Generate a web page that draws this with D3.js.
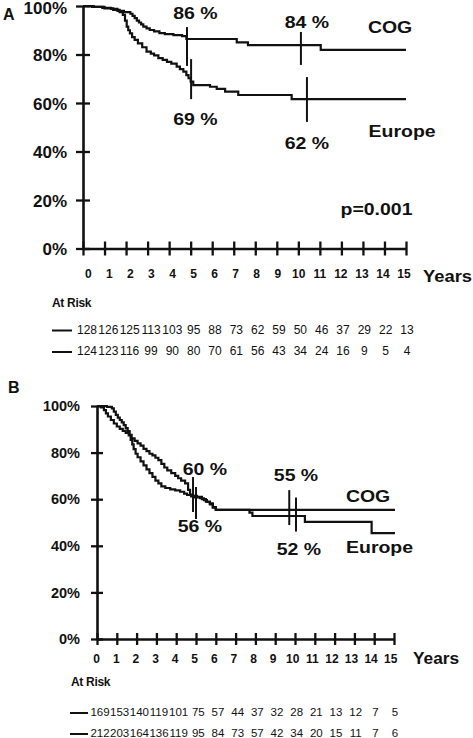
<!DOCTYPE html>
<html><head><meta charset="utf-8">
<script src="https://cdn.jsdelivr.net/npm/d3@7"></script>
<style>
html,body{margin:0;padding:0;background:#fff;}
text{font-family:"Liberation Sans",Arial,sans-serif;fill:#111;}
</style></head>
<body>
<svg id="chart" width="473" height="738"></svg>
<script>
// ---------------- DATA ----------------
const yearTicks = [0,1,2,3,4,5,6,7,8,9,10,11,12,13,14,15];
const pctTicks = [0,20,40,60,80,100];
const seriesNames = ["COG","Europe"];

// Panel A survival curves [year, percent]
const aCOG = [[0,100],[0.4,99.6],[0.9,99.2],[1.3,98.8],[1.6,98.0],[1.9,97.5],[2.2,96.8],[2.3,95.9],[2.4,95.0],[2.5,94.0],[2.6,93.2],[2.7,92.4],[2.8,91.5],[2.95,90.8],[3.1,90.1],[3.3,89.5],[3.55,88.8],[3.8,88.4],[4.2,88.0],[4.6,87.6],[4.8,86.4],[7.14,85.0],[7.66,83.9],[11.04,81.9],[15,81.9]];
const aEurope = [[0,100],[0.5,99.6],[1.0,99.0],[1.4,98.4],[1.7,97.5],[1.85,96.3],[1.95,94.0],[2.03,91.5],[2.1,90.0],[2.18,88.7],[2.28,87.2],[2.4,86.0],[2.55,84.6],[2.75,83.0],[2.95,81.2],[3.15,80.4],[3.3,79.6],[3.5,78.5],[3.7,77.8],[3.9,77.0],[4.1,76.2],[4.35,75.0],[4.5,74.0],[4.66,72.9],[4.8,71.5],[4.9,70.2],[5.0,68.8],[5.12,67.4],[5.9,66.7],[6.21,65.8],[6.6,64.7],[7.21,63.3],[9.69,61.6],[15,61.6]];

// Panel B survival curves [year, percent]
const bCOG = [[0,100],[0.5,99.6],[0.75,99.0],[0.85,97.6],[0.95,96.2],[1.05,95.0],[1.15,94.0],[1.25,93.0],[1.35,91.8],[1.45,90.5],[1.55,89.2],[1.65,87.6],[1.75,86.1],[1.9,85.0],[2.05,84.0],[2.2,83.0],[2.35,81.6],[2.5,80.6],[2.65,79.5],[2.8,78.8],[2.95,77.8],[3.1,76.8],[3.25,75.2],[3.4,73.6],[3.55,72.4],[3.75,71.2],[3.95,70.0],[4.1,69.0],[4.25,68.0],[4.45,66.8],[4.6,64.0],[4.7,62.0],[4.85,61.4],[5.05,61.0],[5.3,60.0],[5.5,59.0],[5.7,58.2],[5.85,56.6],[6.0,55.4],[15.05,55.4]];
const bEurope = [[0,100],[0.2,99.4],[0.35,98.2],[0.45,96.8],[0.55,95.5],[0.7,94.0],[0.85,92.5],[1.0,91.2],[1.15,90.2],[1.3,89.3],[1.45,88.5],[1.6,87.4],[1.7,85.5],[1.78,83.5],[1.85,81.5],[1.95,79.5],[2.05,78.0],[2.2,76.2],[2.35,74.5],[2.5,72.8],[2.65,71.2],[2.8,69.6],[2.95,68.0],[3.1,66.8],[3.25,65.5],[3.45,64.8],[3.7,64.2],[3.95,63.8],[4.2,63.2],[4.4,62.4],[4.55,61.8],[4.75,61.2],[4.9,60.8],[5.2,60.4],[5.4,59.6],[5.55,58.8],[5.7,57.8],[5.85,56.4],[6.0,55.4],[7.7,54.2],[7.85,52.8],[10.5,50.3],[13.87,45.4],[15.05,45.4]];

// Numbers at risk
const riskA_COG    = [128,126,125,113,103,95,88,73,62,59,50,46,37,29,22,13];
const riskA_Europe = [124,123,116,99,90,80,70,61,56,43,34,24,16,9,5,4];
const riskB_COG    = [169,153,140,119,101,75,57,44,37,32,28,21,13,12,7,5];
const riskB_Europe = [212,203,164,136,119,95,84,73,57,42,34,20,15,11,7,6];

// Survival estimates shown at 5 and 10 years
const aMarkLabels = ["86 %","84 %","69 %","62 %"];
const bMarkLabels = ["60 %","55 %","56 %","52 %"];
const pValueA = "p=0.001";

// ---------------- DRAWING ----------------
const svg = d3.select("#chart");
svg.append("rect").attr("width",473).attr("height",738).attr("fill","#fff");

function drawPanel(cfg){
  const g = svg.append("g");
  const x = d3.scaleLinear().domain([0,15]).range(cfg.xr);
  const y = d3.scaleLinear().domain([0,100]).range(cfg.yr);
  const xl = d3.scaleLinear().domain([0,15]).range(cfg.xlabr);
  const xr = d3.scaleLinear().domain([0,15]).range(cfg.riskr);

  // y axis
  const ya = g.append("g").attr("transform",`translate(${cfg.xr[0]},0)`)
    .call(d3.axisLeft(y).tickValues(pctTicks).tickFormat("").tickSizeOuter(0));
  ya.select(".domain").attr("stroke","#111").attr("stroke-width",2.6);
  ya.selectAll(".tick line").attr("x1",-cfg.tick).attr("x2",cfg.tick).attr("stroke","#111").attr("stroke-width",2.3);
  g.selectAll(".ylab").data(pctTicks).join("text")
    .attr("x",cfg.ylabX).attr("y",d=>Math.max(y(d)+cfg.ylabDy, cfg.ylabMinY))
    .attr("text-anchor","end").attr("font-weight","bold").attr("font-size",cfg.ylabFs)
    .text(d=>d+"%");

  // x axis
  const xa = g.append("g").attr("transform",`translate(0,${cfg.yr[0]})`)
    .call(d3.axisBottom(x).tickValues(yearTicks).tickFormat("").tickSizeOuter(0));
  xa.select(".domain").attr("stroke","#111").attr("stroke-width",2.6);
  xa.selectAll(".tick line").attr("y1",-cfg.tick).attr("y2",cfg.tick).attr("stroke","#111").attr("stroke-width",2.3);
  g.selectAll(".xlab").data(yearTicks).join("text")
    .attr("x",d=>xl(d)).attr("y",cfg.xlabY)
    .attr("text-anchor","middle").attr("font-weight","bold").attr("font-size",12)
    .text(d=>d);
  g.append("text").attr("x",cfg.yearsX).attr("y",cfg.xlabY+cfg.yearsDy)
    .attr("font-weight","bold").attr("font-size",cfg.yearsFs)
    .attr("transform",`translate(${cfg.yearsX},0) scale(1.08,1) translate(${-cfg.yearsX},0)`)
    .text("Years");

  // curves
  const line = d3.line().x(d=>x(d[0])).y(d=>y(d[1])).curve(d3.curveStepAfter);
  cfg.curves.forEach(c=>{
    g.append("path").attr("d",line(c)).attr("fill","none").attr("stroke","#111").attr("stroke-width",2.2);
  });

  // markers
  cfg.marks.forEach(m=>{
    g.append("line").attr("x1",x(m.t)).attr("x2",x(m.t))
      .attr("y1",y(m.top)).attr("y2",y(m.bot)).attr("stroke","#111").attr("stroke-width",2);
  });

  // annotations
  cfg.notes.forEach(n=>{
    const px = x(n.t), py = y(n.p);
    g.append("text").attr("text-anchor","middle").attr("font-weight","bold")
      .attr("font-size",n.fs||16.5)
      .attr("transform",`translate(${px},${py}) scale(${n.sx||1.18},1)`)
      .text(n.text);
  });

  // at risk
  g.append("text").attr("x",cfg.riskX).attr("y",cfg.riskTitleY)
    .attr("font-weight","bold").attr("font-size",12).attr("letter-spacing",-0.3).text("At Risk");
  cfg.risk.forEach((row,i)=>{
    const yy = cfg.riskY[i];
    g.append("line").attr("x1",cfg.dash[0]).attr("x2",cfg.dash[1])
      .attr("y1",yy-3).attr("y2",yy-3).attr("stroke","#111").attr("stroke-width",2);
    g.selectAll(null).data(row).join("text")
      .attr("x",(d,k)=>xr(k)).attr("y",yy)
      .attr("text-anchor","middle").attr("font-size",cfg.riskFs)
      .text(d=>d);
  });

  g.append("text").attr("x",cfg.letter[0]).attr("y",cfg.letter[1])
    .attr("font-weight","bold").attr("font-size",16).text(cfg.letterText);
}

drawPanel({
  letterText:"A", letter:[3,20],
  xr:[83,406], yr:[248.5,6], xlabr:[88.3,404], riskr:[87,407],
  tick:7, ylabX:67, ylabDy:6.5, ylabMinY:13.5, ylabFs:17,
  xlabY:278, yearsX:423, yearsDy:4, yearsFs:17,
  curves:[aCOG,aEurope],
  marks:[{t:4.83,top:91.3,bot:75.3},{t:10.12,top:89.3,bot:75.7},{t:5.02,top:78.1,bot:61.6},{t:10.4,top:70.7,bot:52.2}],
  notes:[
    {text:aMarkLabels[0],t:5.22,p:94.6},
    {text:aMarkLabels[1],t:10.40,p:90.9},
    {text:aMarkLabels[2],t:5.22,p:50.9},
    {text:aMarkLabels[3],t:10.40,p:41.2},
    {text:seriesNames[0],t:14.26,p:88.7},
    {text:seriesNames[1],t:14.82,p:46.0},
    {text:pValueA,t:13.63,p:14.0}
  ],
  riskX:52, riskTitleY:307, riskY:[333.5,355], dash:[52,72], riskFs:12,
  risk:[riskA_COG,riskA_Europe]
});

drawPanel({
  letterText:"B", letter:[8,393],
  xr:[97,394], yr:[639,406], xlabr:[96.7,390.7], riskr:[100,395],
  tick:6, ylabX:80, ylabDy:5.2, ylabMinY:0, ylabFs:14.5,
  xlabY:663, yearsX:413, yearsDy:1, yearsFs:16,
  curves:[bCOG,bEurope],
  marks:[{t:4.85,top:69.5,bot:54.5},{t:9.71,top:63.9,bot:48.9},{t:5.0,top:65.2,bot:51.5},{t:10.05,top:60.7,bot:46.1}],
  notes:[
    {text:bMarkLabels[0],t:5.45,p:70.4},
    {text:bMarkLabels[1],t:10.05,p:67.6},
    {text:bMarkLabels[2],t:5.2,p:46.1},
    {text:bMarkLabels[3],t:10.2,p:36.1},
    {text:seriesNames[0],t:13.69,p:58.9},
    {text:seriesNames[1],t:14.27,p:36.9}
  ],
  riskX:71, riskTitleY:686, riskY:[716,737], dash:[70,88], riskFs:11.5,
  risk:[riskB_COG,riskB_Europe]
});
</script>
</body></html>
